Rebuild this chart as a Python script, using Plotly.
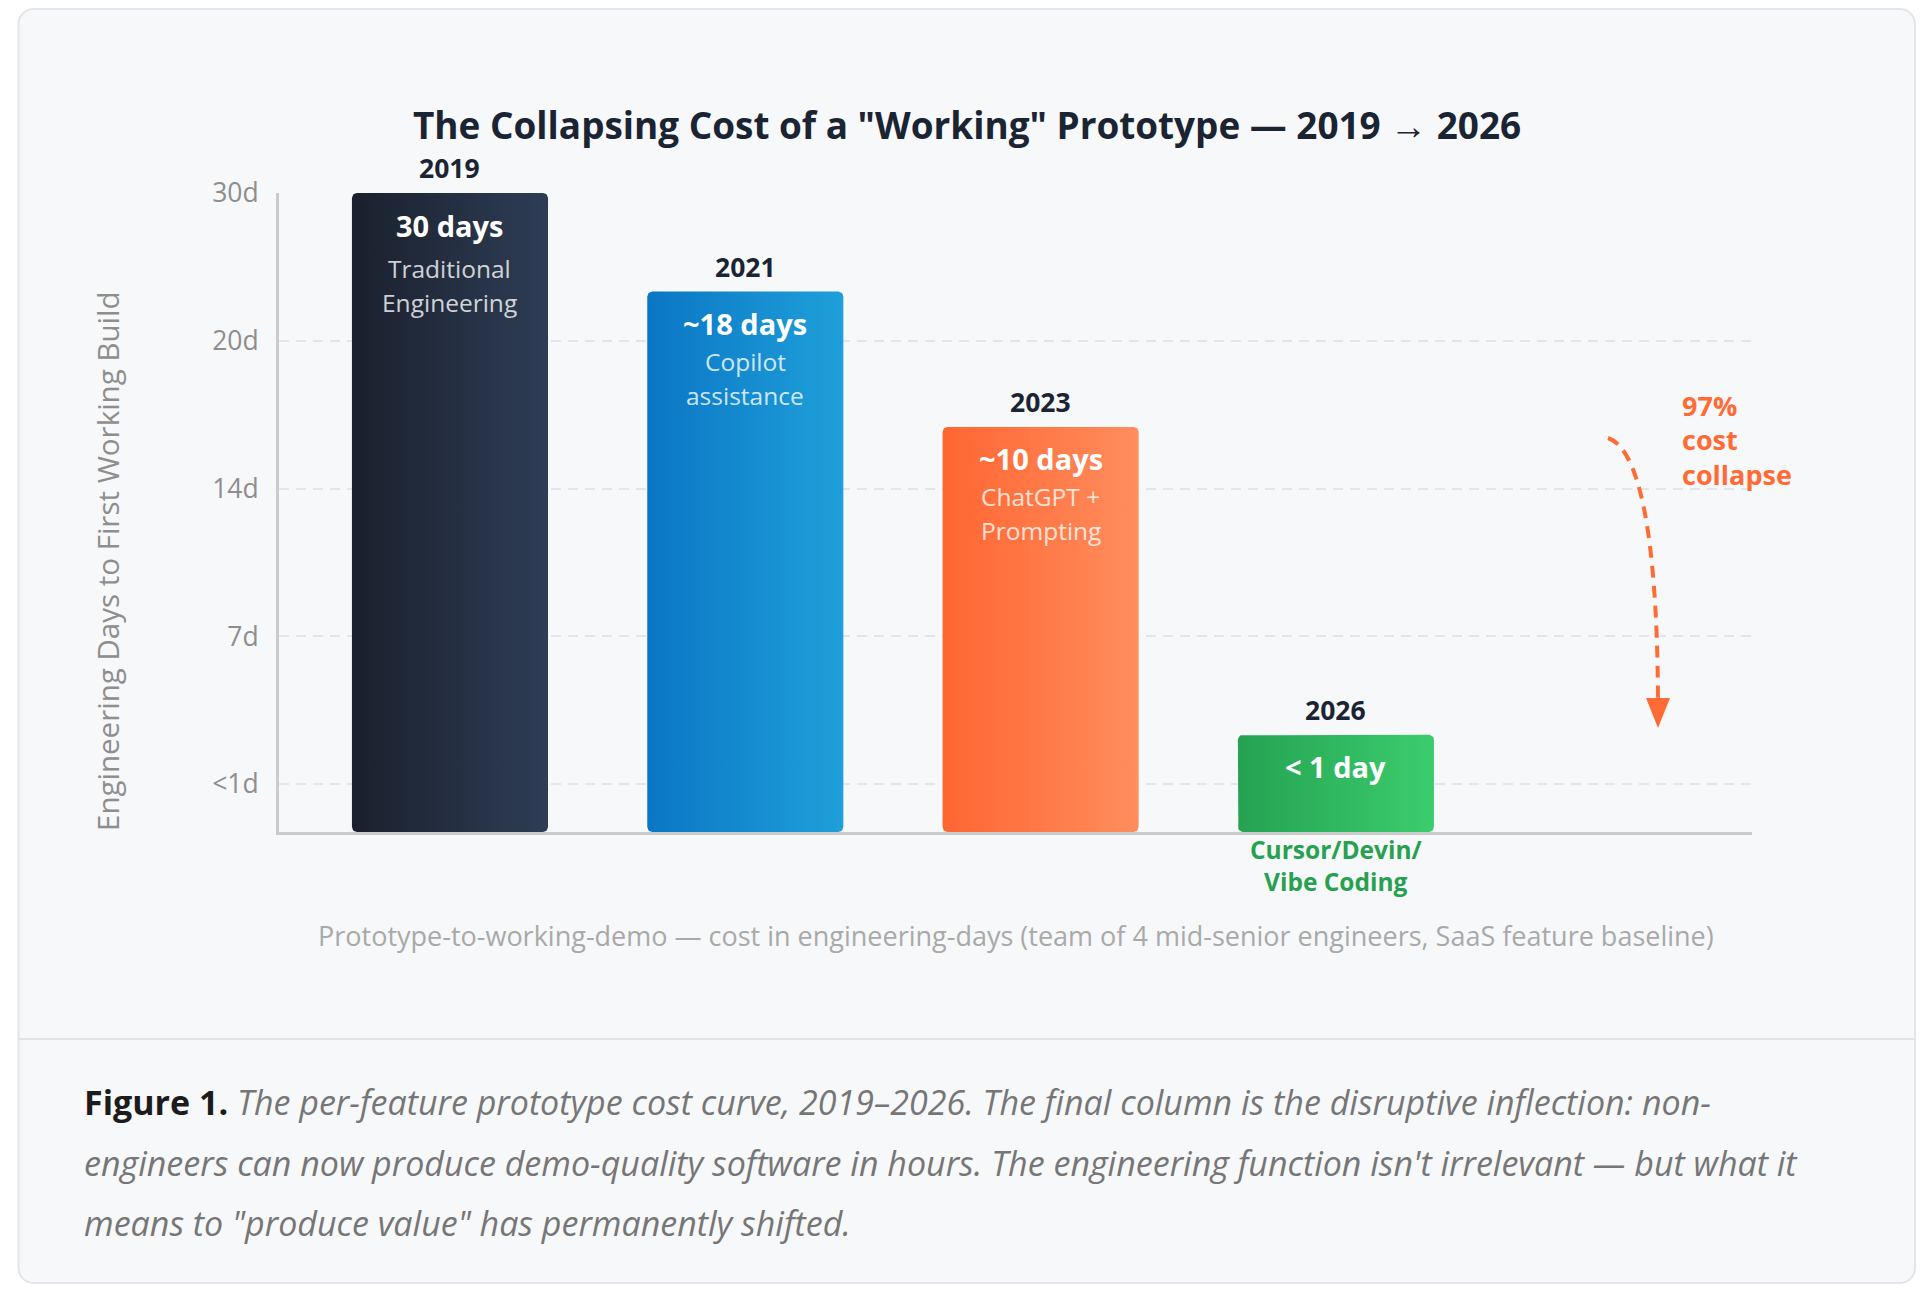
import numpy as np
import plotly.graph_objects as go

# ---- data ----
years = ["2019", "2021", "2023", "2026"]
day_labels = ["30 days", "~18 days", "~10 days", "< 1 day"]
methods = [["Traditional", "Engineering"],
           ["Copilot", "assistance"],
           ["ChatGPT +", "Prompting"],
           ["Cursor/Devin/", "Vibe Coding"]]
# bar heights on the drawn (non-linear) scale, in gridline steps above the baseline
bar_heights = [4.325, 3.658, 2.742, 0.658]
tick_pos = [0.325, 1.325, 2.325, 3.325, 4.325]
tick_text = ["<1d", "7d", "14d", "20d", "30d"]
collapse_label = ["97%", "cost", "collapse"]

grad = [("#1a202d", "#2e3d55"), ("#0b76c5", "#1fa0da"),
        ("#ff6631", "#ff8d5e"), ("#25a252", "#3bcd6d")]
sub_offset = [75, 70, 70]

FONT = "Open Sans"
W, H = 1912, 1278
L, T, PW, PH = 271, 185, 1473, 639
X_RANGE = [-0.579, 4.409]
Y_RANGE = [0, 4.3251]
BAR_W = 0.664
PX_X = PW / (X_RANGE[1] - X_RANGE[0])
PX_Y = PH / (Y_RANGE[1] - Y_RANGE[0])


def px(x):
    return (x - L) / PW


def py(y):
    return 1 - (y - T) / PH


def rounded_pts(x0, x1, y0, y1, rx, ry, n=8):
    xs, ys = [], []
    for cx, cy, a0 in [(x1 - rx, y0 + ry, -90), (x1 - rx, y1 - ry, 0),
                       (x0 + rx, y1 - ry, 90), (x0 + rx, y0 + ry, 180)]:
        a = np.radians(np.linspace(a0, a0 + 90, n))
        xs += list(cx + rx * np.cos(a))
        ys += list(cy + ry * np.sin(a))
    return xs + [xs[0]], ys + [ys[0]]


fig = go.Figure()

for i, h in enumerate(bar_heights):
    xs, ys = rounded_pts(i - BAR_W / 2, i + BAR_W / 2, 0, h, 5 / PX_X, 5 / PX_Y)
    fig.add_trace(go.Scatter(
        x=xs, y=ys, mode="lines", fill="toself", line=dict(width=0),
        fillgradient=dict(type="horizontal",
                          colorscale=[[0, grad[i][0]], [1, grad[i][1]]]),
        hoverinfo="skip", showlegend=False))

ann = []
for i, h in enumerate(bar_heights):
    ann.append(dict(x=i, y=h, yshift=25, text="<b>%s</b>" % years[i],
                    font=dict(size=26.5, color="#1b2433")))
    ann.append(dict(x=i, y=h, yshift=-32, text="<b>%s</b>" % day_labels[i],
                    font=dict(size=29, color="white")))
    if i < 3:
        for k, line in enumerate(methods[i]):
            ann.append(dict(x=i, y=h, yshift=-sub_offset[i] - 34 * k, text=line,
                            font=dict(size=24.5, color="rgba(255,255,255,0.8)")))
    else:
        for k, line in enumerate(methods[i]):
            ann.append(dict(x=i, y=0, yshift=-17.5 - 32 * k, text="<b>%s</b>" % line,
                            font=dict(size=24.5, color="#27a14f")))
for a in ann:
    a.update(xref="x", yref="y", showarrow=False, xanchor="center", yanchor="middle")

# page text
ann.append(dict(x=px(959), y=py(117), text='<b>The Collapsing Cost of a "Working" Prototype — 2019 → 2026</b>',
                font=dict(size=36.9, color="#1b2433")))
ann.append(dict(x=px(99), y=py(554), text="Engineering Days to First Working Build", textangle=-90,
                font=dict(size=29.5, color="#8e8e8e")))
ann.append(dict(x=px(1008), y=py(928),
                text="Prototype-to-working-demo — cost in engineering-days (team of 4 mid-senior engineers, SaaS feature baseline)",
                font=dict(size=27, color="#a9a9a9")))
for k, line in enumerate(collapse_label):
    ann.append(dict(x=px(1672), y=py(397 + 34.5 * k), text="<b>%s</b>" % line, xanchor="left",
                    font=dict(size=27, color="#ff6b35")))
caption = [
    '<span style="color:#1c1c1c"><b>Figure 1.</b></span> <i>The per-feature prototype cost curve, 2019–2026. The final column is the disruptive inflection: non-</i>',
    "<i>engineers can now produce demo-quality software in hours. The engineering function isn't irrelevant — but what it</i>",
    '<i>means to "produce value" has permanently shifted.</i>',
]
for k, line in enumerate(caption):
    ann.append(dict(x=px(74), y=py(1094 + 60.5 * k), text=line, xanchor="left",
                    font=dict(size=34, color="#767676")))
for a in ann[-(3 + len(collapse_label) + len(caption)):]:
    a.setdefault("xanchor", "center")
    a.update(xref="paper", yref="paper", showarrow=False, yanchor="middle")


def path_of(pts):
    xs, ys = pts
    return "M " + " L ".join("%.5f,%.5f" % (px(a), py(b)) for a, b in zip(xs, ys)) + " Z"


shapes = [
    dict(type="path", xref="paper", yref="paper", layer="below",
         path=path_of(rounded_pts(10.5, 1907, 1, 1275, 15, 15)),
         fillcolor="#f7f8fa", line=dict(color="#e2e5ea", width=2)),
    dict(type="line", xref="paper", yref="paper", layer="below",
         x0=px(11), x1=px(1906), y0=py(1031), y1=py(1031),
         line=dict(color="#e0e3e8", width=2)),
    dict(type="path", xref="paper", yref="paper", layer="above",
         path="M %f,%f C %f,%f %f,%f %f,%f" % (px(1600), py(430), px(1630), py(440),
                                              px(1649), py(520), px(1650), py(690)),
         line=dict(color="#ff6b35", width=4, dash="12px,8px")),
    dict(type="path", xref="paper", yref="paper", layer="above",
         path="M %f,%f L %f,%f L %f,%f Z" % (px(1638), py(690), px(1662), py(690), px(1650), py(720)),
         fillcolor="#ff6b35", line=dict(width=0)),
]

fig.update_layout(
    width=W, height=H,
    margin=dict(l=L, r=W - L - PW, t=T, b=H - T - PH),
    paper_bgcolor="white", plot_bgcolor="rgba(0,0,0,0)",
    font=dict(family=FONT),
    showlegend=False,
    annotations=ann, shapes=shapes,
    xaxis=dict(range=X_RANGE, showgrid=False, zeroline=False, showticklabels=False,
               showline=True, linecolor="#cbcbcb", linewidth=3, fixedrange=True),
    yaxis=dict(range=Y_RANGE, tickvals=tick_pos, ticktext=tick_text, ticks="",
               tickfont=dict(size=26.5, color="#8e8e8e"), ticklabelstandoff=12,
               showgrid=True, gridcolor="#e2e5eb", gridwidth=2, griddash="10px,7px",
               zeroline=False, showline=True, linecolor="#cbcbcb", linewidth=3,
               fixedrange=True),
)

fig.write_html("out.html")
